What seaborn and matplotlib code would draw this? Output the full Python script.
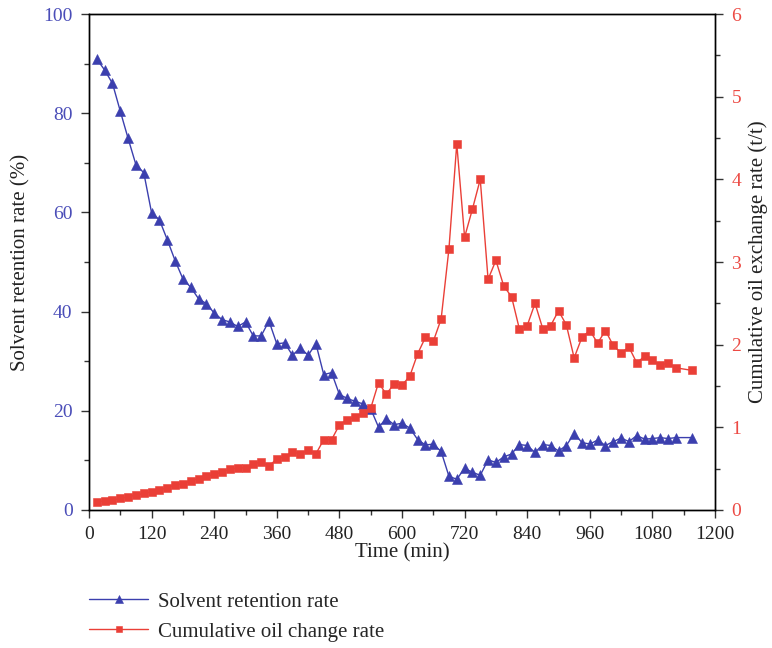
import numpy as np
import pandas as pd
import matplotlib
matplotlib.use("Agg")
import matplotlib.pyplot as plt
import seaborn as sns
from matplotlib.ticker import MultipleLocator

sns.set_theme(style="ticks")
plt.rcParams["font.family"] = ["Liberation Serif", "DejaVu Serif"]

time_min = [15, 30, 45, 60, 75, 90, 105, 120, 135, 150, 165, 180, 195, 210, 225,
            240, 255, 270, 285, 300, 315, 330, 345, 360, 375, 390, 405, 420, 435, 450,
            465, 480, 495, 510, 525, 540, 555, 570, 585, 600, 615, 630, 645, 660, 675,
            690, 705, 720, 735, 750, 765, 780, 795, 810, 825, 840, 855, 870, 885, 900,
            915, 930, 945, 960, 975, 990, 1005, 1020, 1035, 1050, 1065, 1080, 1095, 1110, 1125,
            1155]

solvent_retention = [90.9, 88.7, 86.0, 80.4, 74.9, 69.6, 68.0, 59.9, 58.5, 54.5,
                     50.3, 46.6, 44.9, 42.6, 41.6, 39.7, 38.4, 37.9, 37.0, 37.9,
                     35.1, 35.1, 38.1, 33.5, 33.7, 31.2, 32.7, 31.2, 33.5, 27.3,
                     27.7, 23.3, 22.5, 21.9, 21.4, 20.4, 16.7, 18.4, 17.2, 17.5,
                     16.5, 14.2, 13.1, 13.3, 11.8, 6.8, 6.2, 8.4, 7.6, 7.0,
                     10.1, 9.6, 10.7, 11.3, 13.2, 13.0, 11.6, 13.2, 13.0, 11.9,
                     13.0, 15.4, 13.6, 13.3, 14.1, 13.0, 13.8, 14.5, 13.8, 15.0,
                     14.3, 14.4, 14.6, 14.4, 14.6, 14.6]

oil_exchange = [0.10, 0.11, 0.12, 0.14, 0.16, 0.18, 0.20, 0.22, 0.24, 0.27,
                0.30, 0.32, 0.35, 0.38, 0.41, 0.43, 0.46, 0.49, 0.51, 0.51,
                0.56, 0.58, 0.53, 0.62, 0.64, 0.70, 0.68, 0.72, 0.68, 0.85,
                0.85, 1.03, 1.09, 1.12, 1.17, 1.23, 1.54, 1.40, 1.53, 1.51,
                1.62, 1.89, 2.09, 2.04, 2.31, 3.16, 4.43, 3.30, 3.64, 4.00,
                2.79, 3.02, 2.71, 2.58, 2.19, 2.23, 2.50, 2.19, 2.23, 2.41,
                2.24, 1.84, 2.09, 2.17, 2.02, 2.17, 1.99, 1.90, 1.97, 1.78,
                1.86, 1.81, 1.75, 1.78, 1.72, 1.69]

x_ticks = [0, 120, 240, 360, 480, 600, 720, 840, 960, 1080, 1200]
left_ticks = [0, 20, 40, 60, 80, 100]
right_ticks = [0, 1, 2, 3, 4, 5, 6]

blue = "#3b3fae"
red = "#ea3f37"
blue_txt = "#4a4db8"
red_txt = "#ec4a44"

df = pd.DataFrame({"t": time_min, "sr": solvent_retention, "oe": oil_exchange})

fig = plt.figure(figsize=(7.72, 6.48), dpi=100)
ax = fig.add_axes([89 / 772, 1 - 510 / 648, (715 - 89) / 772, (510 - 14) / 648])
ax2 = ax.twinx()

sns.lineplot(data=df, x="t", y="sr", ax=ax, color=blue, marker="^", markersize=7,
             markeredgecolor=blue, markeredgewidth=0.4, linewidth=1.0, clip_on=False, zorder=3)
sns.lineplot(data=df, x="t", y="oe", ax=ax2, color=red, marker="s", markersize=5.6,
             markeredgecolor=red, markeredgewidth=0.4, linewidth=1.0, clip_on=False, zorder=3)

ax.set_xlim(0, 1200)
ax.set_ylim(0, 100)
ax2.set_ylim(0, 6)
ax.set_xticks(x_ticks)
ax.set_yticks(left_ticks)
ax2.set_yticks(right_ticks)
ax.xaxis.set_minor_locator(MultipleLocator(60))
ax.yaxis.set_minor_locator(MultipleLocator(10))
ax2.yaxis.set_minor_locator(MultipleLocator(0.5))

for a in (ax, ax2):
    for s in a.spines.values():
        s.set_visible(True)
        s.set_color("black")
        s.set_linewidth(1.0)
    a.tick_params(which="major", direction="out", length=5.8, width=1.0, color="#333333",
                  labelsize=14, pad=6)
    a.tick_params(which="minor", direction="out", length=3.6, width=1.0, color="#333333")
ax.tick_params(axis="x", top=False, which="both")
ax.tick_params(axis="y", labelcolor=blue_txt, right=False, which="both")
ax.tick_params(axis="x", labelcolor="#222222")
ax2.tick_params(axis="y", labelcolor=red_txt)

ax.set_xlabel("Time (min)", fontsize=15, color="#222222", labelpad=0)
ax.set_ylabel("Solvent retention rate (%)", fontsize=15, color="#222222", labelpad=9)
ax2.set_ylabel("Cumulative oil exchange rate (t/t)", fontsize=15, color="#222222", labelpad=5)

h1 = ax.get_lines()[0]
h2 = ax2.get_lines()[0]
fig.legend([h1, h2], ["Solvent retention rate", "Cumulative oil change rate"],
           loc="upper left", bbox_to_anchor=(89 / 772, 1 - 592 / 648), frameon=False,
           fontsize=15, handlelength=2.85, handletextpad=0.45, labelspacing=0.5,
           borderaxespad=0, borderpad=0, markerscale=0.85)

fig.savefig("out.png", dpi=100)
